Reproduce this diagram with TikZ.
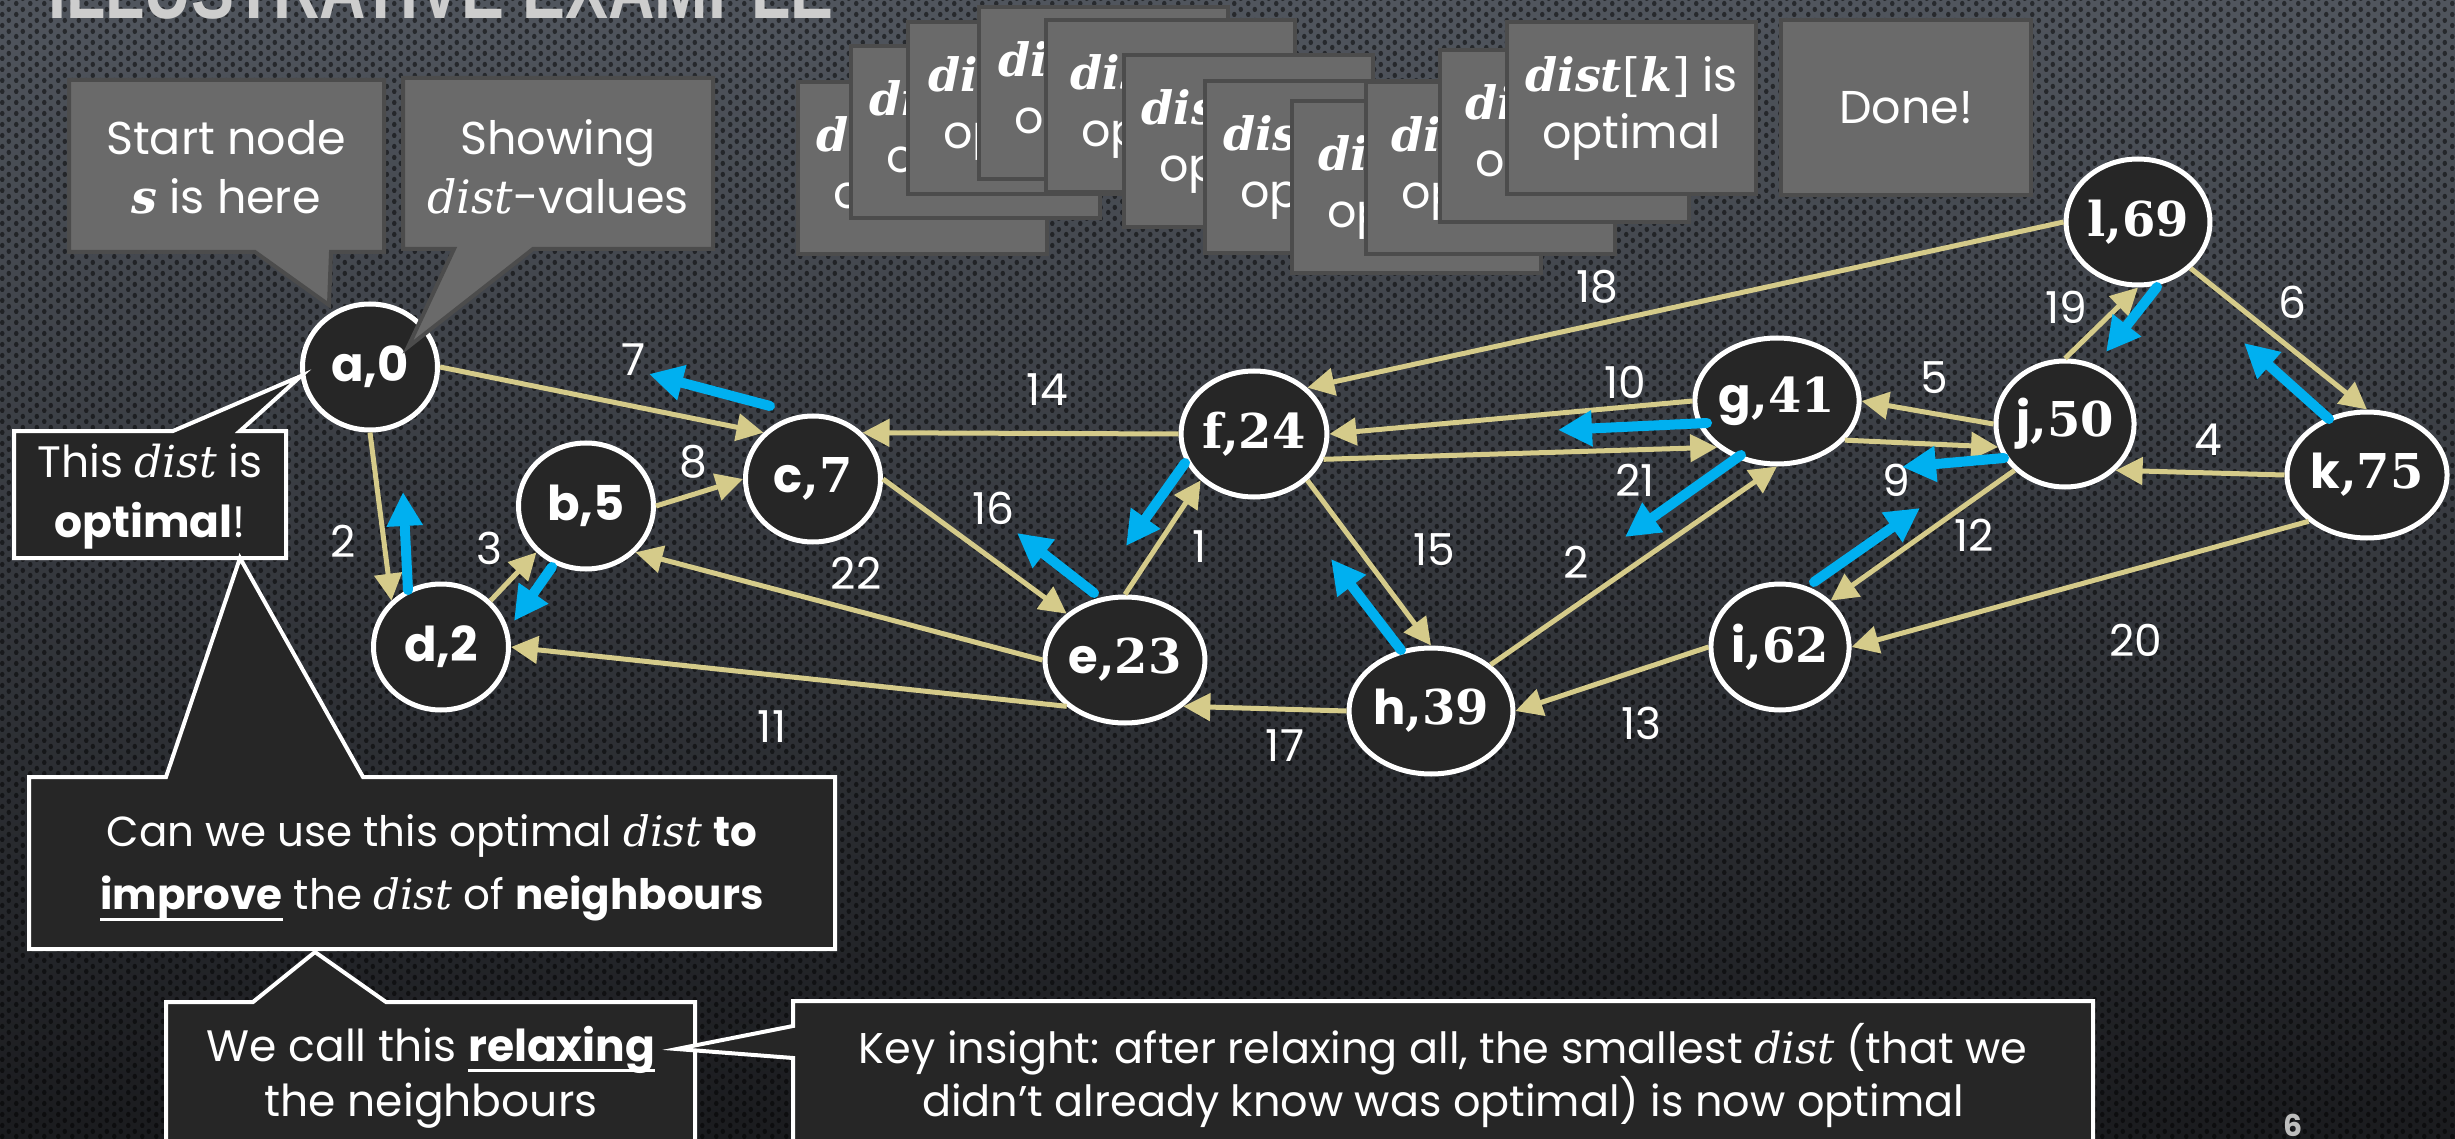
\documentclass[tikz,border=0pt]{standalone}
\usepackage{fontspec}
\setmainfont{Poppins}
\newfontfamily\serf{DejaVu Serif}
\newfontfamily\titlefont{Liberation Sans}
\usepackage{graphicx}
\usetikzlibrary{arrows.meta,patterns.meta,shapes.geometric}

\definecolor{bgtop}{RGB}{80,85,93}
\definecolor{bgmid}{RGB}{50,52,57}
\definecolor{bgbot}{RGB}{26,27,30}
\definecolor{nodefill}{RGB}{38,38,38}
\definecolor{edgecol}{RGB}{213,203,138}
\definecolor{bluecol}{RGB}{0,176,240}
\definecolor{boxfill}{RGB}{106,106,106}
\definecolor{boxline}{RGB}{76,76,76}
\definecolor{titlecol}{RGB}{205,205,205}
\definecolor{pagecol}{RGB}{190,190,190}

\newcommand\fs[2]{\fontsize{#1}{#2}\selectfont}
\newcommand\dist{{\serf\itshape dist}}
\newcommand\bdist[1]{{\serf\bfseries\itshape dist}{\serf[}{\serf\bfseries\itshape #1}{\serf]}}
\newcommand\bess{{\serf\bfseries\itshape s}}
\newcommand\ulin[1]{\setbox0\hbox{#1}\rlap{\rule[-11pt]{\wd0}{3pt}}\box0\relax}
\newcommand\nm[1]{{\serf\bfseries #1}}

\tikzdeclarepattern{
  name=holes,
  type=uncolored,
  bounding box={(0pt,0pt) and (14pt,11pt)},
  tile size={(14pt,11pt)},
  code={
    \pgfpathellipse{\pgfpoint{3.5pt}{2.75pt}}{\pgfpoint{2.4pt}{0pt}}{\pgfpoint{0pt}{2.9pt}}
    \pgfpathellipse{\pgfpoint{10.5pt}{8.25pt}}{\pgfpoint{2.4pt}{0pt}}{\pgfpoint{0pt}{2.9pt}}
    \pgfusepath{fill}
  }
}

\tikzset{
  gnode/.style={ellipse, draw=white, line width=5pt, fill=nodefill,
    minimum width=135pt, minimum height=126pt, inner sep=0pt,
    text=white, font=\fs{48}{56}\bfseries},
  gedge/.style={draw=edgecol, line width=5pt, -{Triangle[length=27pt,width=27pt]}},
  wlabel/.style={text=white, font=\fs{44}{50}, inner sep=0pt},
  bluearr/.style={draw=bluecol, line width=10pt, line cap=round,
    -{Triangle[length=34pt,width=34pt]}},
  gbox/.style={draw=boxline, line width=4pt, fill=boxfill,
    minimum width=249pt, minimum height=172pt, anchor=north west,
    align=center, text=white, font=\fs{46}{57}, inner sep=0pt},
  gcall/.style={draw=boxline, line width=4pt, fill=boxfill, line join=miter},
  bcall/.style={draw=white, line width=4pt, fill=nodefill, line join=miter},
  ctext/.style={text=white, align=center, inner sep=0pt},
}

\begin{document}
\begin{tikzpicture}[x=1pt,y=-1pt]
\useasboundingbox (0,0) rectangle (2455,1139);
% background
\shade[top color=bgtop, middle color=bgmid, bottom color=bgbot] (0,0) rectangle (2455,1139);
\begin{scope}[opacity=0.5]
\fill[pattern=holes, pattern color=black] (0,0) rectangle (2455,1139);
\end{scope}

% title
\node[anchor=base west, text=titlecol, inner sep=0pt] (title) at (48,19)
  {\resizebox{785pt}{58pt}{\titlefont\bfseries ILLUSTRATIVE EXAMPLE}};

% graph nodes
\node[gnode] (a) at (370,367) {a,0};
\node[gnode] (b) at (586,506) {b,5};
\node[gnode] (c) at (813,479) {c\nm{,7}};
\node[gnode] (d) at (441,647) {d,2};
\node[gnode] (e) at (1125,660) {e\nm{,23}};
\node[gnode] (f) at (1254,434) {\nm{f,24}};
\node[gnode] (g) at (1777,401) {g\nm{,41}};
\node[gnode] (h) at (1431,711) {h\nm{,39}};
\node[gnode] (i) at (1780,647) {i\nm{,62}};
\node[gnode] (j) at (2065,424) {j\nm{,50}};
\node[gnode] (k) at (2367,475) {k\nm{,75}};
\node[gnode] (l) at (2138,222) {\nm{l,69}};

% edges
\draw[gedge] (a.east) -- (c.north west);
\draw[gedge] (a.south) -- (d.north west);
\draw[gedge] (d.north east) -- (b.south west);
\draw[gedge] (b.east) -- (c.west);
\draw[gedge] (c.east) -- (e.north west);
\draw[gedge] (e.west) -- (b.south east);
\draw[gedge] (e.south west) -- (d.east);
\draw[gedge] (e.north) -- (f.south west);
\draw[gedge] (f.west) -- (c.north east);
\draw[gedge] (f.south east) -- (h.north);
\draw[gedge] (h.west) -- (e.south east);
\draw[gedge] (f.-20) -- (g.south west);
\draw[gedge] (g.west) -- (f.east);
\draw[gedge] (h.north east) -- (g.south);
\draw[gedge] (l.west) -- (f.north east);
\draw[gedge] (j.west) -- (g.east);
\draw[gedge] (g.-30) -- (j.199);
\draw[gedge] (j.south west) -- (i.north east);
\draw[gedge] (i.west) -- (h.east);
\draw[gedge] (k.south west) -- (i.east);
\draw[gedge] (k.west) -- (j.south east);
\draw[gedge] (j.north) -- (l.south);
\draw[gedge] (l.south east) -- (k.north);

% edge weights
\node[wlabel] (w7) at (634,360) {7};
\node[wlabel] (w2a) at (343,541) {2};
\node[wlabel] (w3) at (489,548) {3};
\node[wlabel] (w8) at (693,462) {8};
\node[wlabel] (w11) at (772,727) {11};
\node[wlabel] (w14) at (1047,390) {14};
\node[wlabel] (w16) at (993,508) {16};
\node[wlabel] (w22) at (856,573) {22};
\node[wlabel] (w1) at (1200,547) {1};
\node[wlabel] (w15) at (1434,550) {15};
\node[wlabel] (w17) at (1285,746) {17};
\node[wlabel] (w2b) at (1576,562) {2};
\node[wlabel] (w18) at (1597,287) {18};
\node[wlabel] (w10) at (1625,382) {10};
\node[wlabel] (w21) at (1635,480) {21};
\node[wlabel] (w5) at (1934,378) {5};
\node[wlabel] (w9) at (1896,480) {9};
\node[wlabel] (w12) at (1974,535) {12};
\node[wlabel] (w13) at (1641,723) {13};
\node[wlabel] (w20) at (2136,640) {20};
\node[wlabel] (w4) at (2208,440) {4};
\node[wlabel] (w19) at (2066,307) {19};
\node[wlabel] (w6) at (2292,302) {6};

% relaxation pointers
\draw[bluearr] (408,590) -- (403,492);
\draw[bluearr] (552,567) -- (514,621);
\draw[bluearr] (770,406) -- (649,374);
\draw[bluearr] (1094,593) -- (1017,533);
\draw[bluearr] (1185,463) -- (1126,546);
\draw[bluearr] (1401,650) -- (1331,559);
\draw[bluearr] (1707,423) -- (1558,430);
\draw[bluearr] (1741,455) -- (1625,537);
\draw[bluearr] (2004,458) -- (1902,467);
\draw[bluearr] (1814,582) -- (1920,508);
\draw[bluearr] (2157,287) -- (2106,352);
\draw[bluearr] (2329,419) -- (2244,343);

% stacked "optimal" boxes
\node[gbox] (ob1) at (796,80) {\bdist{d} is\\optimal};
\node[gbox] (ob2) at (849,44) {\bdist{b} is\\optimal};
\node[gbox] (ob3) at (906,20) {\bdist{c} is\\optimal};
\node[gbox] (ob4) at (977,5) {\bdist{e} is\\optimal};
\node[gbox] (ob5) at (1044,18) {\bdist{f} is\\optimal};
\node[gbox] (ob6) at (1122,53) {\bdist{h} is\\optimal};
\node[gbox] (ob7) at (1203,79) {\bdist{g} is\\optimal};
\node[gbox] (ob8) at (1290,99) {\bdist{j} is\\optimal};
\node[gbox] (ob9) at (1364,80) {\bdist{i} is\\optimal};
\node[gbox] (ob10) at (1438,48) {\bdist{l} is\\optimal};
\node[gbox] (ob11) at (1505,20) {\bdist{k} is\\optimal};
\node[gbox, minimum width=250pt, minimum height=175pt] (done) at (1779,18) {Done!};

% grey callouts
\draw[gcall] (69,80) -- (384,80) -- (384,252) -- (331,252) -- (329,305) -- (255,252) -- (69,252) -- cycle;
\node[ctext, font=\fs{46}{59}] (t1) at (226,167) {Start node\\\bess{} is here};
\draw[gcall] (403,78) -- (713,78) -- (713,249) -- (533,249) -- (408,347) -- (454,249) -- (403,249) -- cycle;
\node[ctext, font=\fs{46}{59}] (t2) at (558,167) {Showing\\\dist-values};

% black callouts
\draw[bcall] (14,431) -- (173,431) -- (301,376) -- (240,431) -- (286,431) -- (286,558) -- (14,558) -- cycle;
\node[ctext, font=\fs{44}{60}] (t3) at (150,497) {This \dist{} is\\\textbf{optimal}!};

\draw[bcall] (29,777) -- (166,777) -- (240,558) -- (363,777) -- (835,777) -- (835,949) -- (29,949) -- cycle;
\node[ctext, font=\fs{42}{63}] (t4) at (432,868)
  {Can we use this optimal \dist{} \textbf{to}\\\ulin{\textbf{improve}} the \dist{} of \textbf{neighbours}};

\draw[bcall] (166,1002) -- (253,1002) -- (315,952) -- (386,1002) -- (695,1002) -- (695,1175) -- (166,1175) -- cycle;
\node[ctext, font=\fs{44}{55}] (t5) at (431,1077) {We call this \ulin{\textbf{relaxing}}\\the neighbours};

\draw[bcall] (793,1001) -- (2093,1001) -- (2093,1175) -- (793,1175) -- (793,1058) -- (677,1049) -- (793,1026) -- cycle;
\node[ctext, font=\fs{43}{53}] (t6) at (1443,1076)
  {Key insight: after relaxing all, the smallest \dist{} (that we\\didn’t already know was optimal) is now optimal};

\node[text=pagecol, font=\fs{30}{36}\bfseries, anchor=north, inner sep=0pt] (pg) at (2293,1114) {6};
\end{tikzpicture}
\end{document}
